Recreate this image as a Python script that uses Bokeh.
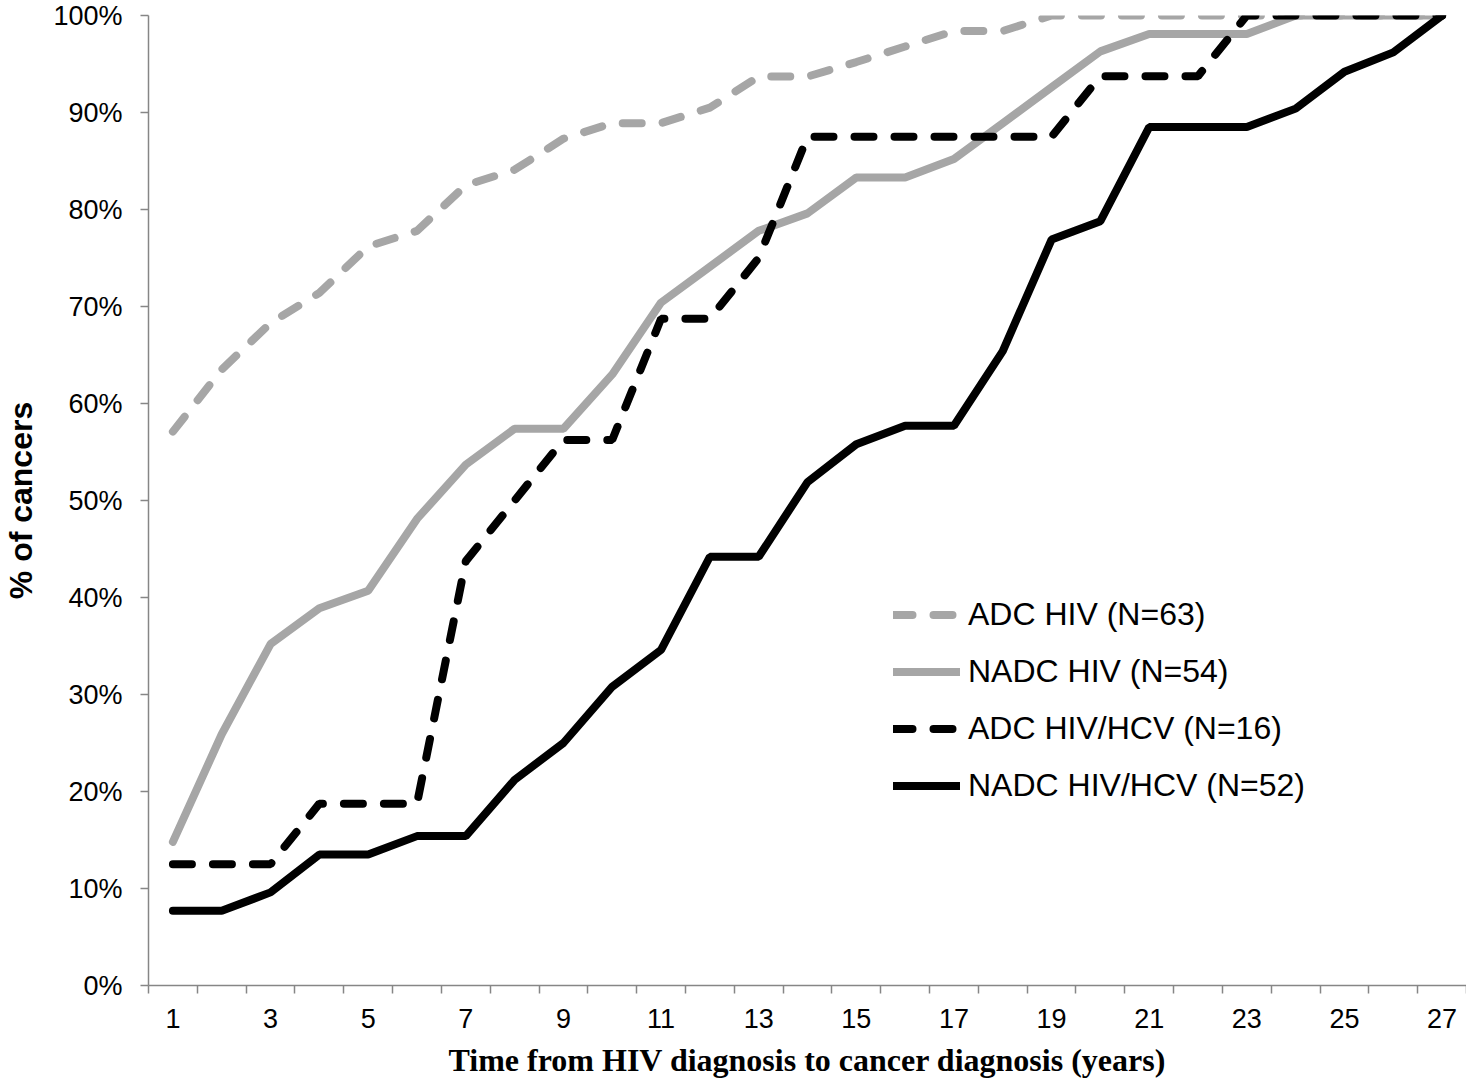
from bokeh.plotting import figure
from bokeh.models import FixedTicker, Range1d, Legend, LegendItem, PrintfTickFormatter
from bokeh.embed import file_html
from bokeh.resources import INLINE

# ---- data (cumulative % of cancers by years since HIV diagnosis) ----
years = list(range(1, 28))
x_tick_labels = list(range(1, 28, 2))
y_ticks = list(range(0, 101, 10))

adc_hiv = [57.1, 63.5, 68.3, 71.4, 76.2, 77.8, 82.5, 84.1, 87.3, 88.9, 88.9, 90.5, 93.7, 93.7,
           95.2, 96.8, 98.4, 98.4, 100, 100, 100, 100, 100, 100, 100, 100, 100]
nadc_hiv = [14.8, 25.9, 35.2, 38.9, 40.7, 48.1, 53.7, 57.4, 57.4, 63.0, 70.4, 74.1, 77.8, 79.6,
            83.3, 83.3, 85.2, 88.9, 92.6, 96.3, 98.1, 98.1, 98.1, 100, 100, 100, 100]
adc_hivhcv = [12.5, 12.5, 12.5, 18.75, 18.75, 18.75, 43.75, 50.0, 56.25, 56.25, 68.75, 68.75, 75.0,
              87.5, 87.5, 87.5, 87.5, 87.5, 87.5, 93.75, 93.75, 93.75, 100, 100, 100, 100, 100]
nadc_hivhcv = [7.7, 7.7, 9.6, 13.5, 13.5, 15.4, 15.4, 21.2, 25.0, 30.8, 34.6, 44.2, 44.2, 51.9,
               55.8, 57.7, 57.7, 65.4, 76.9, 78.8, 88.5, 88.5, 88.5, 90.4, 94.2, 96.2, 100]

series_labels = ["ADC HIV (N=63)", "NADC HIV (N=54)", "ADC HIV/HCV (N=16)", "NADC HIV/HCV (N=52)"]
x_title = "Time from HIV diagnosis to cancer diagnosis (years)"
y_title = "% of cancers"

GRAY = "#A6A6A6"
AXIS = "#868686"
SANS = "Liberation Sans"
SERIF = "Liberation Serif"

p = figure(width=1466, height=1080, output_backend="svg", toolbar_location=None,
           x_range=Range1d(0.5, 27.5), y_range=Range1d(0, 100),
           min_border_left=147, min_border_right=0, min_border_top=15, min_border_bottom=95)
p.outline_line_color = None
p.xgrid.visible = False
p.ygrid.visible = False
p.background_fill_color = "white"
p.border_fill_color = "white"

r1 = p.line(years, adc_hiv, line_color=GRAY, line_width=8, line_dash="19 21", line_cap="round")
r2 = p.line(years, nadc_hiv, line_color=GRAY, line_width=8, line_cap="round")
r3 = p.line(years, adc_hivhcv, line_color="black", line_width=8, line_dash="19 21", line_cap="round")
r4 = p.line(years, nadc_hivhcv, line_color="black", line_width=8, line_cap="round")

# y axis
ya = p.yaxis[0]
ya.ticker = FixedTicker(ticks=y_ticks)
ya.formatter = PrintfTickFormatter(format="%d%%")
ya.axis_line_color = AXIS
ya.axis_line_width = 1.5
ya.major_tick_line_color = AXIS
ya.major_tick_line_width = 1.5
ya.major_tick_out = 8
ya.major_tick_in = 0
ya.minor_tick_line_color = None
ya.major_label_text_font = SANS
ya.major_label_text_font_size = "27px"
ya.major_label_text_color = "black"
ya.major_label_standoff = 18
ya.axis_label = y_title
ya.axis_label_text_font = SANS
ya.axis_label_text_font_style = "bold"
ya.axis_label_text_font_size = "32px"
ya.axis_label_text_color = "black"
ya.axis_label_standoff = 11

# x axis
xa = p.xaxis[0]
xa.ticker = FixedTicker(ticks=x_tick_labels, minor_ticks=[y - 0.5 for y in years] + [27.5])
xa.axis_line_color = AXIS
xa.axis_line_width = 1.5
xa.major_tick_line_color = None
xa.major_tick_out = 0
xa.major_tick_in = 0
xa.minor_tick_line_color = AXIS
xa.minor_tick_line_width = 1.5
xa.minor_tick_out = 8
xa.minor_tick_in = 0
xa.major_label_text_font = SANS
xa.major_label_text_font_size = "27px"
xa.major_label_text_color = "black"
xa.major_label_standoff = 15
xa.axis_label = x_title
xa.axis_label_text_font = SERIF
xa.axis_label_text_font_style = "bold"
xa.axis_label_text_font_size = "32px"
xa.axis_label_text_color = "black"
xa.axis_label_standoff = 11

legend = Legend(
    items=[LegendItem(label=series_labels[0], renderers=[r1]),
           LegendItem(label=series_labels[1], renderers=[r2]),
           LegendItem(label=series_labels[2], renderers=[r3]),
           LegendItem(label=series_labels[3], renderers=[r4])],
    location=(745, 171),
    padding=0, margin=0, spacing=0,
    glyph_width=67, glyph_height=57, label_height=57, label_standoff=8,
    label_text_font=SANS, label_text_font_size="32px", label_text_color="black",
    border_line_color=None, background_fill_alpha=0,
)
p.add_layout(legend)

open("out.html", "w").write(file_html(p, INLINE))
